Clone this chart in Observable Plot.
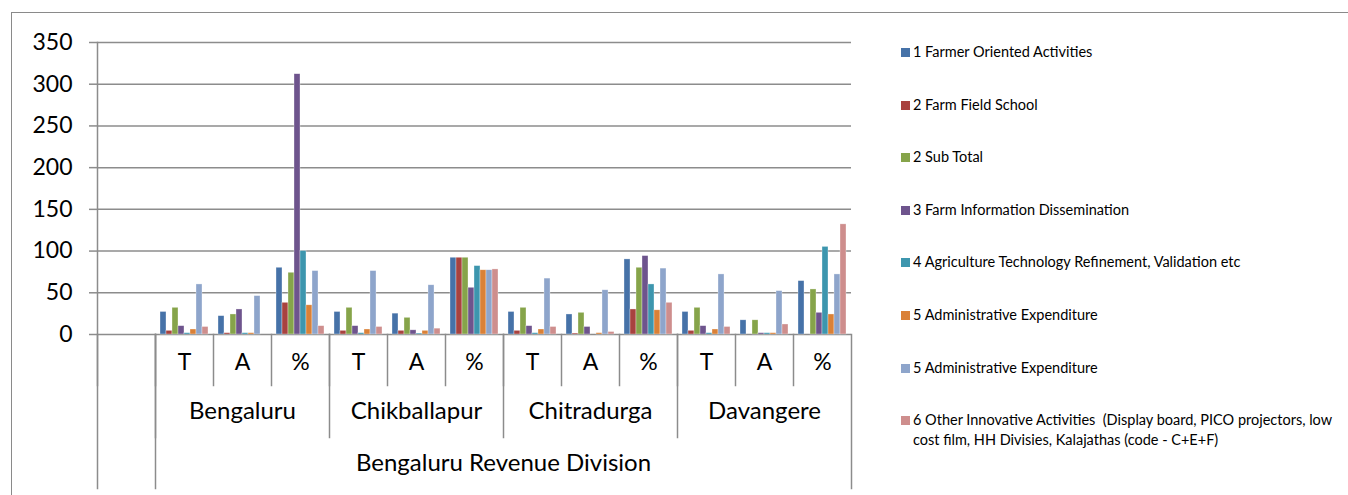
<!DOCTYPE html>
<html>
<head>
<meta charset="utf-8">
<script src="https://cdn.jsdelivr.net/npm/d3@7"></script>
<script src="https://cdn.jsdelivr.net/npm/@observablehq/plot@0.6"></script>
<style>
  body { margin: 0; background: #fff; font-family: Lato, "Open Sans", sans-serif; }
  #wrap { position: relative; width: 1348px; height: 495px; overflow: hidden; background: #fff; }
  #border { position: absolute; left: 11px; top: 12px; width: 1350px; height: 500px;
            border-top: 1px solid #8a8a8a; border-left: 1px solid #8a8a8a; }
  #chart { position: absolute; left: 0; top: 0; }
  #legend { position: absolute; left: 901px; top: 0; width: 440px; font-size: 14.5px; color: #000; }
  .item { position: absolute; left: 0; width: 440px; display: flex; align-items: flex-start; }
  .sw { width: 9px; height: 9px; flex: none; margin-top: 5px; margin-right: 3px; }
  .lab { white-space: pre-wrap; line-height: 20px; margin-top: -1px; width: 428px; }
</style>
</head>
<body>
<div id="wrap">
  <div id="border"></div>
  <div id="chart"></div>
  <div id="legend"></div>
</div>
<script>
// ---- data ----
const districts = ["Bengaluru", "Chikballapur", "Chitradurga", "Davangere"];
const subLabels = ["T", "A", "%"];
const divisionLabel = "Bengaluru Revenue Division";
const seriesNames = [
  "1 Farmer Oriented Activities",
  "2 Farm Field School",
  "2 Sub Total",
  "3 Farm Information Dissemination",
  "4 Agriculture Technology Refinement, Validation etc",
  "5 Administrative Expenditure",
  "5 Administrative Expenditure",
  "6 Other Innovative Activities  (Display board, PICO projectors, low cost film, HH Divisies, Kalajathas (code - C+E+F)"
];
const seriesColors = ["#4672A8", "#A8423F", "#86A44A", "#6E548D", "#3D96AE", "#DA8137", "#8EA5CB", "#CE8E8D"];
const yTicks = [0, 50, 100, 150, 200, 250, 300, 350];
// values in order: Bengaluru T,A,% | Chikballapur T,A,% | Chitradurga T,A,% | Davangere T,A,%
const s1 = [27, 22, 80, 27, 25, 92, 27, 24, 90, 27, 17, 64];
const s2 = [4.4, 1.6, 38, 4.4, 4.4, 92, 4.4, 1.2, 30, 4.4, 0, 0];
const s3 = [32, 24, 74, 32, 20, 92, 32, 26, 80, 32, 17, 54];
const s4 = [10, 30, 312, 10, 5, 56, 10, 9, 94, 10, 1.6, 26];
const s5 = [1.6, 1.6, 100, 1.6, 1.2, 82, 1.6, 0, 60, 1.6, 1.6, 105];
const s6 = [6, 1.6, 35, 6, 4.4, 77, 6, 1.6, 29, 6, 1.6, 24];
const s7 = [60, 46, 76, 76, 59, 77, 67, 53, 79, 72, 52, 72];
const s8 = [9, 0, 10, 9, 7, 78, 9, 3, 38, 9, 12, 132];
const seriesValues = [s1, s2, s3, s4, s5, s6, s7, s8];

// ---- build table ----
const seriesIds = seriesNames.map((_, i) => "s" + (i + 1));
const slotKeys = ["blank", ...districts.flatMap(d => subLabels.map(s => d + "|" + s))];
const rows = [];
seriesIds.forEach((sid, si) => seriesValues[si].forEach((v, j) => rows.push({slot: slotKeys[j + 1], series: sid, value: v})));
const subRows = slotKeys.slice(1).map(k => ({slot: k, label: k.split("|")[1]}));
const distRows = districts.map(d => ({slot: d + "|A", label: d}));
const divRows = [{slot: "Chikballapur|%", label: divisionLabel}];

const W = 870, H = 495, mt = 42, mb = 161, ml = 93, mr = 15;
const plotH = H - mt - mb;
const line = {stroke: "#8c8c8c", strokeWidth: 1.5};

const marks = [
  Plot.gridY(yTicks, {...line, strokeOpacity: 1}),
  Plot.axisY(yTicks, {label: null, tickSize: 8, tickPadding: 17, fontSize: 23, stroke: "#8c8c8c", strokeWidth: 1.5, fill: "#000"}),
  Plot.barY(rows, {fx: "slot", x: "series", y: "value", fill: "series", stroke: "#fff", strokeOpacity: 0.55, strokeWidth: 0.6}),
  // level 1 separators (every slot)
  Plot.frame({anchor: "left", insetTop: plotH, insetBottom: -51, ...line}),
  // level 2 separators (districts)
  ...districts.map(d => Plot.frame({anchor: "left", fx: () => d + "|T", insetTop: plotH, insetBottom: -103, ...line})),
  // y axis line + outer separators
  Plot.frame({anchor: "left", fx: () => "blank", insetTop: 0, insetBottom: -154, ...line}),
  Plot.frame({anchor: "left", fx: () => "Bengaluru|T", insetTop: plotH, insetBottom: -154, ...line}),
  Plot.frame({anchor: "right", fx: () => "Davangere|%", insetTop: plotH, insetBottom: -154, ...line}),
  Plot.text(subRows, {fx: "slot", text: "label", frameAnchor: "bottom", dy: 35, fontSize: 23, fill: "#000"}),
  Plot.text(distRows, {fx: "slot", text: "label", frameAnchor: "bottom", dy: 84, fontSize: 24, fill: "#000"}),
  Plot.text(divRows, {fx: "slot", text: "label", frameAnchor: "bottom-right", textAnchor: "middle", dy: 136, fontSize: 24, fill: "#000"})
];

const chart = Plot.plot({
  width: W, height: H,
  marginTop: mt, marginBottom: mb, marginLeft: ml, marginRight: mr,
  style: {fontFamily: "Lato, 'Open Sans', sans-serif", background: "transparent"},
  fx: {domain: slotKeys, padding: 0, axis: null, label: null},
  x: {domain: seriesIds, paddingInner: 0, paddingOuter: 0.8, axis: null},
  y: {domain: [0, 350], axis: null, label: null},
  color: {domain: seriesIds, range: seriesColors},
  marks
});
document.getElementById("chart").appendChild(chart);

// ---- legend ----
const legend = document.getElementById("legend");
seriesNames.forEach((name, i) => {
  const item = document.createElement("div");
  item.className = "item";
  item.style.top = (53 + i * 52.6 - 10) + "px";
  const sw = document.createElement("div");
  sw.className = "sw";
  sw.style.background = seriesColors[i];
  const lab = document.createElement("div");
  lab.className = "lab";
  lab.textContent = name;
  item.appendChild(sw);
  item.appendChild(lab);
  legend.appendChild(item);
});
</script>
</body>
</html>
